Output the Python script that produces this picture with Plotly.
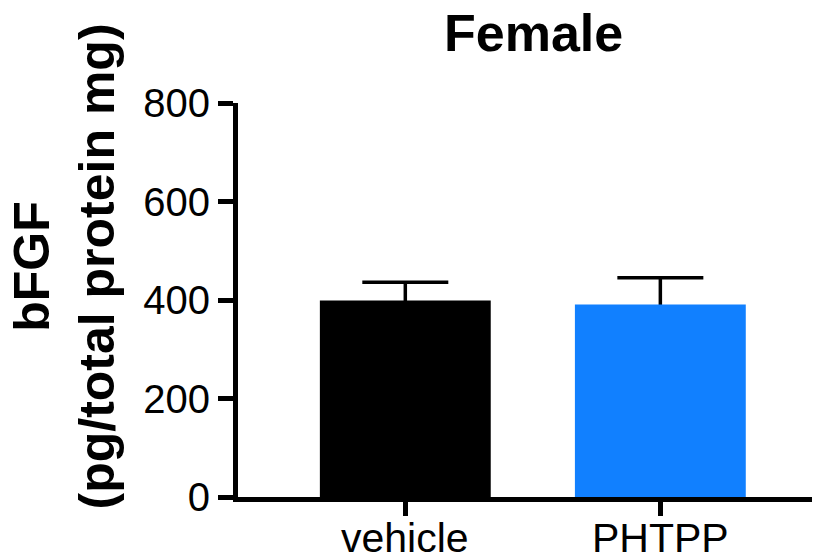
import plotly.graph_objects as go

categories = ["vehicle", "PHTPP"]
means = [399, 391]
sem_upper = [37, 54]
colors = ["#000000", "#1180FF"]
y_ticks = [0, 200, 400, 600, 800]

# the page body adds an 8px offset, so the figure is 8px smaller
OFF = 8
W, H = 820 - OFF, 558 - OFF
L, R, T, B = 230, 0, 95, 61
PW, PH = W - L - R, H - T - B

font_family = "Liberation Sans, Arial, sans-serif"

fig = go.Figure()
# error bars drawn first (under the bars) so the lower cap is hidden
fig.add_trace(go.Bar(
    x=categories, y=means,
    marker=dict(color="rgba(0,0,0,0)", line=dict(width=0)),
    width=0.67, hoverinfo="skip",
    error_y=dict(type="data", symmetric=False, array=sem_upper,
                 arrayminus=[20, 20], color="#000000", thickness=3.5, width=43),
))
fig.add_trace(go.Bar(
    x=categories, y=means,
    marker=dict(color=colors, line=dict(width=0)),
    width=0.67,
))

annotations = [
    dict(text="<b>Female</b>", xref="paper", yref="paper",
         x=(525 - L) / PW, y=(H - B - 56) / PH,
         xanchor="center", yanchor="bottom", showarrow=False,
         font=dict(size=52, family=font_family, color="black")),
    dict(text="<b>bFGF<br>(pg/total protein mg)</b>", xref="paper", yref="paper",
         x=(56 - L) / PW, y=(H - B - 258.5) / PH,
         xanchor="center", yanchor="middle", showarrow=False, textangle=-90,
         font=dict(size=50, family=font_family, color="black")),
]
# category labels under the ticks
for cat in categories:
    annotations.append(dict(text=cat, x=cat, xref="x", y=0, yref="paper",
                            xanchor="center", yanchor="top", yshift=-16,
                            showarrow=False,
                            font=dict(size=41, family=font_family, color="black")))

fig.update_layout(
    width=W, height=H,
    barmode="overlay",
    margin=dict(l=L, r=R, t=T, b=B, pad=0, autoexpand=False),
    plot_bgcolor="white", paper_bgcolor="white",
    showlegend=False,
    font=dict(family=font_family, color="black"),
    xaxis=dict(range=[-0.656, 1.626], showline=True, linewidth=5, linecolor="black",
               ticks="outside", ticklen=14, tickwidth=5, tickcolor="black",
               showticklabels=False,
               showgrid=False, zeroline=False, fixedrange=True, automargin=False),
    yaxis=dict(range=[0, 800], tickvals=y_ticks, showline=True, linewidth=5,
               linecolor="black", ticks="outside", ticklen=15, tickwidth=5,
               tickcolor="black", tickfont=dict(size=40, family=font_family, color="black"),
               showgrid=False, zeroline=False, fixedrange=True, automargin=False),
    annotations=annotations,
)

fig.write_html("out.html")
